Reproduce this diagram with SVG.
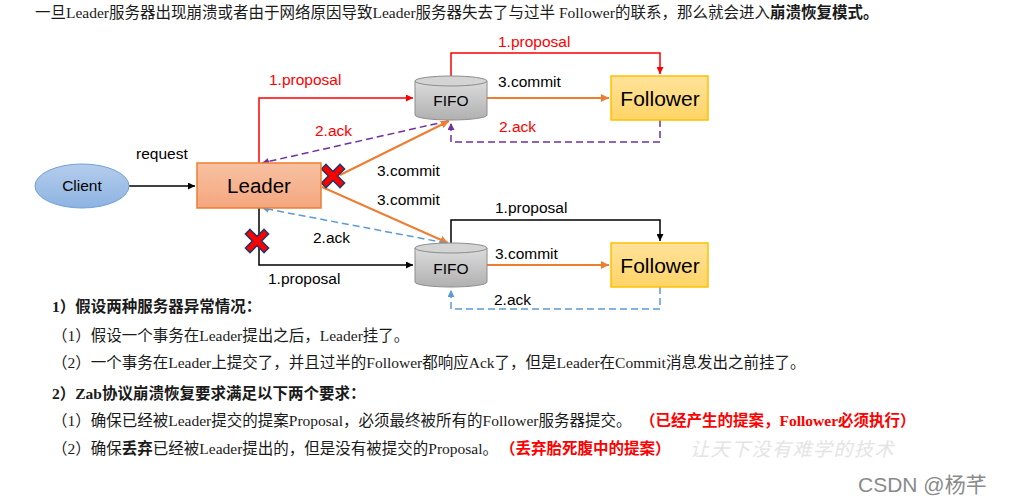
<svg xmlns="http://www.w3.org/2000/svg" width="1014" height="504" viewBox="0 0 1014 504">
<style>
.t{font-family:"Liberation Serif","Noto Sans CJK SC",serif;font-size:15.5px;fill:#1a1a1a}
.b{font-weight:bold}
.r{fill:#ff0000;font-weight:bold}
.lbl{font-family:"Liberation Sans",Arial,sans-serif;font-size:15.5px;fill:#000}
.lr{fill:#ff0000}
.node{font-family:"Liberation Sans",Arial,sans-serif;fill:#000;text-anchor:middle}
.ln{fill:none;stroke-width:1.5}
.red{stroke:#ff0000}
.blk{stroke:#000}
.org{stroke:#ed7d31;stroke-width:2}
.pur{stroke:#7030a0;stroke-dasharray:7 4}
.blu{stroke:#5b9bd5;stroke-dasharray:7 4}
.xo{stroke:#1f3864;stroke-width:8;stroke-linecap:square}
.xi{stroke:#ff0000;stroke-width:5;stroke-linecap:square}
</style>
<defs>
<linearGradient id="gClient" x1="0" y1="0" x2="0" y2="1"><stop offset="0" stop-color="#b4cdec"/><stop offset="1" stop-color="#8db3e2"/></linearGradient>
<linearGradient id="gLeader" x1="0" y1="0" x2="0" y2="1"><stop offset="0" stop-color="#f8c1a2"/><stop offset="1" stop-color="#f4a77f"/></linearGradient>
<linearGradient id="gFol" x1="0" y1="0" x2="0" y2="1"><stop offset="0" stop-color="#ffe39b"/><stop offset="1" stop-color="#ffd466"/></linearGradient>
<linearGradient id="gFifo" x1="0" y1="0" x2="0" y2="1"><stop offset="0" stop-color="#dcdcdc"/><stop offset="1" stop-color="#b0b0b0"/></linearGradient>
<marker id="aRed" viewBox="0 0 10 10" refX="10" refY="5" markerWidth="7" markerHeight="7" markerUnits="userSpaceOnUse" orient="auto"><path d="M0,0L10,5L0,10z" fill="#ff0000"/></marker>
<marker id="aBlk" viewBox="0 0 10 10" refX="10" refY="5" markerWidth="7" markerHeight="7" markerUnits="userSpaceOnUse" orient="auto"><path d="M0,0L10,5L0,10z" fill="#000"/></marker>
<marker id="aOrg" viewBox="0 0 10 10" refX="10" refY="5" markerWidth="8" markerHeight="8" markerUnits="userSpaceOnUse" orient="auto"><path d="M0,0L10,5L0,10z" fill="#ed7d31"/></marker>
<marker id="aPur" viewBox="0 0 10 10" refX="10" refY="5" markerWidth="7" markerHeight="7" markerUnits="userSpaceOnUse" orient="auto"><path d="M0,0L10,5L0,10z" fill="#7030a0"/></marker>
<marker id="aBlu" viewBox="0 0 10 10" refX="10" refY="5" markerWidth="7" markerHeight="7" markerUnits="userSpaceOnUse" orient="auto"><path d="M0,0L10,5L0,10z" fill="#5b9bd5"/></marker>
<g id="cyl"><path d="M0,5 V39 A36,5 0 0 0 72,39 V5" fill="url(#gFifo)" stroke="#8c8c8c" stroke-width="1"/><ellipse cx="36" cy="5" rx="36" ry="5" fill="#d4d4d4" stroke="#8c8c8c" stroke-width="1"/></g>
</defs>
<rect width="1014" height="504" fill="#fff"/>

<text class="t" x="35" y="18">一旦Leader服务器出现崩溃或者由于网络原因导致Leader服务器失去了与过半 Follower的联系，那么就会进入<tspan class="b">崩溃恢复模式。</tspan></text>

<g id="connectors">
<path class="ln blk" d="M129,186 H195" marker-end="url(#aBlk)"/>
<path class="ln red" d="M259,163 V98 H413" marker-end="url(#aRed)"/>
<path class="ln red" d="M451,76 V53 H660 V74" marker-end="url(#aRed)"/>
<path class="ln org" d="M487,98 H609" marker-end="url(#aOrg)"/>
<path class="ln pur" d="M660,120 V142 H451 V123" marker-end="url(#aPur)"/>
<path class="ln pur" d="M448,121 L262,163" marker-end="url(#aPur)"/>
<path class="ln org" d="M340,175 L449,121" marker-end="url(#aOrg)"/>
<path class="ln org" d="M322,187 L448,243" marker-end="url(#aOrg)"/>
<path class="ln blu" d="M446,243 L262,208" marker-end="url(#aBlu)"/>
<path class="ln blk" d="M259,208 V265 H413" marker-end="url(#aBlk)"/>
<path class="ln blk" d="M451,243 V220 H660 V241" marker-end="url(#aBlk)"/>
<path class="ln org" d="M487,265 H609" marker-end="url(#aOrg)"/>
<path class="ln blu" d="M660,287 V309 H451 V290" marker-end="url(#aBlu)"/>

<text class="lbl" x="136" y="159">request</text>
<text class="lbl lr" x="269" y="85">1.proposal</text>
<text class="lbl lr" x="498" y="47">1.proposal</text>
<text class="lbl" x="498" y="87">3.commit</text>
<text class="lbl lr" x="499" y="132">2.ack</text>
<text class="lbl lr" x="315" y="136">2.ack</text>
<text class="lbl" x="377" y="176">3.commit</text>
<text class="lbl" x="377" y="205">3.commit</text>
<text class="lbl" x="313" y="243">2.ack</text>
<text class="lbl" x="268" y="284">1.proposal</text>
<text class="lbl" x="495" y="213">1.proposal</text>
<text class="lbl" x="495" y="259">3.commit</text>
<text class="lbl" x="494" y="305">2.ack</text>

<g id="x1"><path class="xo" d="M326,169 L340,183 M340,169 L326,183"/><path class="xi" d="M326,169 L340,183 M340,169 L326,183"/></g>
<g id="x2"><path class="xo" d="M250,234 L264,248 M264,234 L250,248"/><path class="xi" d="M250,234 L264,248 M264,234 L250,248"/></g>
</g>

<g id="client"><ellipse cx="82" cy="186" rx="47" ry="22" fill="url(#gClient)" stroke="#6f9fd8" stroke-width="1"/><text class="node" x="82" y="191" font-size="15.5">Client</text></g>
<g id="leader"><rect x="197" y="163" width="124" height="45" fill="url(#gLeader)" stroke="#ed7d31" stroke-width="1.5"/><text class="node" x="259" y="193" font-size="20.5">Leader</text></g>
<g id="fifo1"><use href="#cyl" x="415" y="76"/><text class="node" x="451" y="106" font-size="15.5">FIFO</text></g>
<g id="follower1"><rect x="611" y="76" width="97" height="44" fill="url(#gFol)" stroke="#ffc000" stroke-width="1.5"/><text class="node" x="660" y="106" font-size="21">Follower</text></g>
<g id="fifo2"><use href="#cyl" x="415" y="243"/><text class="node" x="451" y="274" font-size="15.5">FIFO</text></g>
<g id="follower2"><rect x="611" y="243" width="97" height="44" fill="url(#gFol)" stroke="#ffc000" stroke-width="1.5"/><text class="node" x="660" y="273" font-size="21">Follower</text></g>

<text class="t b" x="52" y="312">1）假设两种服务器异常情况：</text>
<text class="t" x="52" y="341">（1）假设一个事务在Leader提出之后，Leader挂了。</text>
<text class="t" x="52" y="368">（2）一个事务在Leader上提交了，并且过半的Follower都响应Ack了，但是Leader在Commit消息发出之前挂了。</text>
<text class="t b" x="52" y="399">2）Zab协议崩溃恢复要求满足以下两个要求：</text>
<text class="t" x="52" y="426">（1）确保已经被Leader提交的提案Proposal，必须最终被所有的Follower服务器提交。</text>
<text class="t r" x="640" y="426">（已经产生的提案，Follower必须执行）</text>
<text class="t" x="52" y="454">（2）确保<tspan class="b">丢弃</tspan>已经被Leader提出的，但是没有被提交的Proposal。</text>
<text class="t r" x="500" y="454">（丢弃胎死腹中的提案）</text>
<text x="690" y="456" font-family="'Noto Sans CJK SC',sans-serif" font-size="19" font-style="italic" fill="#e4e4e4" letter-spacing="1.5">让天下没有难学的技术</text>
<text x="858" y="492" font-family="'Liberation Sans','Noto Sans CJK SC',sans-serif" font-size="21" fill="#8a8a8a">CSDN @杨芊</text>
</svg>
